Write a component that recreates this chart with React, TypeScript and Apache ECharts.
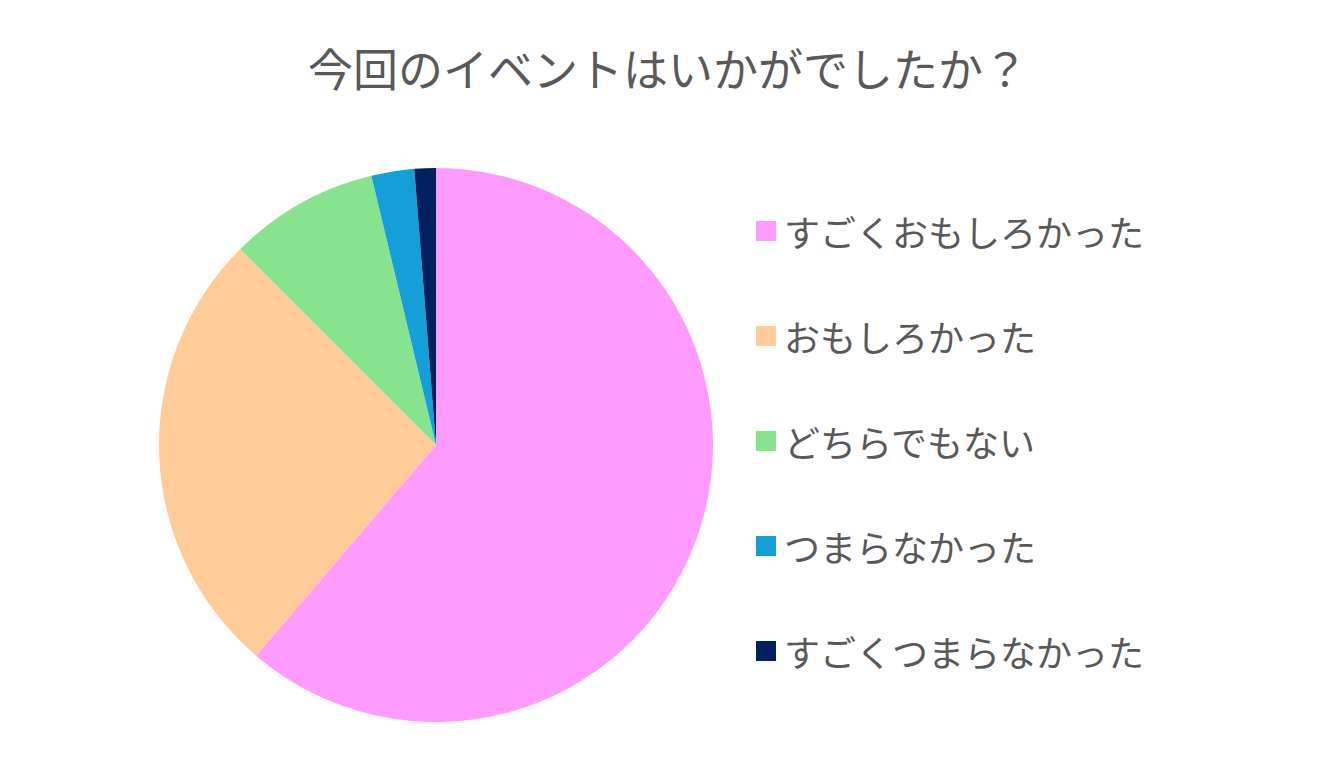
import React, { useEffect, useRef } from 'react';
import * as echarts from 'echarts';

const titleText = '今回のイベントはいかがでしたか？';
const categories = ['すごくおもしろかった', 'おもしろかった', 'どちらでもない', 'つまらなかった', 'すごくつまらなかった'];
const counts = [49, 21, 7, 2, 1];
const colors = ['#FF9BFF', '#FFCB99', '#88E38F', '#149FD8', '#00205F'];

export default function App() {
    const chartRef = useRef<HTMLDivElement>(null);

    useEffect(() => {
        document.body.style.margin = '0';
        const chart = echarts.init(chartRef.current!, undefined, { renderer: 'svg' });

        chart.setOption({
            animation: false,
            color: colors,
            textStyle: { fontFamily: '"Noto Sans CJK JP", "Noto Sans", sans-serif' },
            title: {
                text: titleText,
                left: 'center',
                top: 40,
                textStyle: {
                    color: '#595959',
                    fontSize: 45,
                    fontWeight: 'normal',
                },
            },
            legend: {
                orient: 'vertical',
                left: 751,
                top: 206,
                itemWidth: 20,
                itemHeight: 20,
                itemGap: 65,
                icon: 'rect',
                textStyle: {
                    color: '#595959',
                    fontSize: 36,
                    lineHeight: 40,
                    padding: [0, 0, 0, 3],
                },
                data: categories,
            },
            series: [
                {
                    type: 'pie',
                    center: [436, 445],
                    radius: 277,
                    startAngle: 90,
                    clockwise: true,
                    label: { show: false },
                    labelLine: { show: false },
                    emphasis: { disabled: true },
                    data: categories.map((name, i) => ({ name, value: counts[i] })),
                },
            ],
        });

        return () => {
            chart.dispose();
        };
    }, []);

    return <div ref={chartRef} style={{ width: 1336, height: 773 }} />;
}
